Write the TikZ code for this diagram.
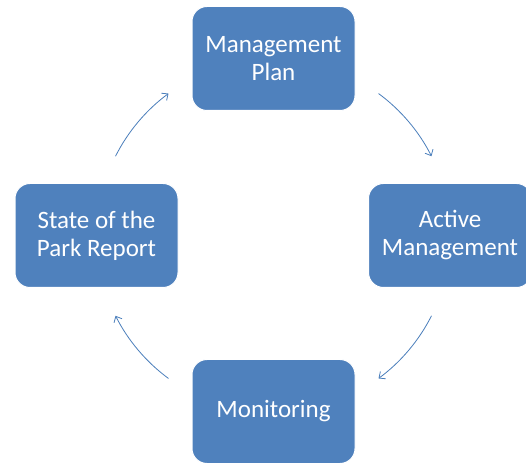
\documentclass[tikz,border=0pt]{standalone}
\usepackage{fontspec}
\setmainfont{Carlito}
\usetikzlibrary{arrows.meta}
\definecolor{boxblue}{HTML}{4F81BD}
\definecolor{arrblue}{HTML}{4A7EBB}
\tikzset{
  cyclebox/.style={draw=white, line width=1pt, fill=boxblue, rounded corners=15pt,
    minimum width=163pt, minimum height=104pt, text=white, align=center,
    font=\fontsize{25}{28}\selectfont, inner sep=0pt},
  cyclearrow/.style={draw=arrblue, line width=0.8pt, -{Straight Barb[length=5pt,width=9pt]}}
}
\begin{document}
\begin{tikzpicture}[x=1pt,y=1pt]
\useasboundingbox (0,0) rectangle (526,462);
\node[cyclebox] (plan) at (273.5,403.5) {Management\\Plan};
\node[cyclebox] (active) at (450,226.5) {Active\\Management};
\node[cyclebox] (monitor) at (273.5,50.5) {Monitoring};
\node[cyclebox] (report) at (96.5,226.5) {State of the\\Park Report};
\coordinate (c) at (273.5,226);
\draw[cyclearrow] (c) ++(53.6:177) arc[start angle=53.6, end angle=26.8, radius=177];
\draw[cyclearrow] (c) ++(-26.8:177) arc[start angle=-26.8, end angle=-53.6, radius=177];
\draw[cyclearrow] (c) ++(233.6:177) arc[start angle=233.6, end angle=206.8, radius=177];
\draw[cyclearrow] (c) ++(153.2:177) arc[start angle=153.2, end angle=126.4, radius=177];
\end{tikzpicture}
\end{document}
